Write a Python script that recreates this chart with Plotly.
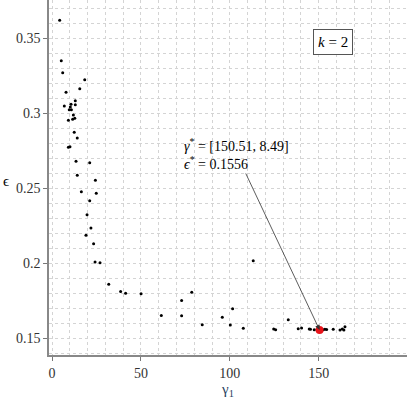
"""
Scatter of epsilon against gamma_1 with the optimum highlighted.
"""

import plotly.graph_objects as go

gamma1 = [4.3, 5.2, 6.0, 18.4, 15.6, 7.9, 13.1, 6.9, 13.1, 10.7, 10.3, 9.7,
          10.9, 12.0, 12.8, 11.6, 9.2, 12.5, 14.2, 10.1, 9.2, 13.5, 21.2, 14.2,
          24.4, 16.5, 24.9, 21.2, 19.7, 21.9, 19.1, 23.4, 24.2, 27.0, 31.9,
          38.6, 41.4, 50.1, 61.5, 72.9, 72.9, 78.6, 84.5, 113.2, 101.6, 95.8,
          100.3, 107.6, 124.7, 125.8, 132.9, 138.5, 140.4, 144.7, 145.4, 147.5,
          149.0, 151.5, 152.5, 153.5, 154.5, 158.2, 162.0, 163.3, 164.2, 164.8]
eps = [0.362, 0.335, 0.327, 0.3224, 0.3164, 0.314, 0.3084, 0.3049, 0.3057,
       0.306, 0.3042, 0.3024, 0.3024, 0.2989, 0.2967, 0.296, 0.2953, 0.2873,
       0.2835, 0.2777, 0.2773, 0.268, 0.2671, 0.2587, 0.2553, 0.2477, 0.2467,
       0.2417, 0.2324, 0.2235, 0.2187, 0.2131, 0.2009, 0.2004, 0.186, 0.1813,
       0.18, 0.1797, 0.1653, 0.1753, 0.1651, 0.1807, 0.1591, 0.2017, 0.1697,
       0.164, 0.1589, 0.1567, 0.1562, 0.1557, 0.1624, 0.1564, 0.1569, 0.1562,
       0.1560, 0.1558, 0.1557, 0.1557, 0.1558, 0.1560, 0.1559, 0.1560, 0.1556,
       0.1562, 0.1555, 0.1577]

best_gamma = [150.51, 8.49]
best_eps = 0.1556
k = 2

SERIF = "Liberation Serif"

fig = go.Figure()
fig.add_trace(go.Scatter(
    x=gamma1, y=eps, mode="markers",
    marker=dict(color="black", size=3), showlegend=False,
))
fig.add_trace(go.Scatter(
    x=[best_gamma[0]], y=[best_eps], mode="markers",
    marker=dict(color="#e8141a", size=8), showlegend=False,
))

fig.add_annotation(
    x=best_gamma[0], y=best_eps,
    text="<i>γ</i><sup>*</sup> = [%.2f, %.2f]<br><i>ϵ</i><sup>*</sup> = %.4f"
    % (best_gamma[0], best_gamma[1], best_eps),
    align="left", font=dict(family=SERIF, size=14, color="black"),
    showarrow=True, arrowhead=2, arrowsize=1.2, arrowwidth=0.8,
    arrowcolor="#333", ax=-83, ay=-176,
)
fig.add_annotation(
    xref="paper", yref="paper", x=0.849, y=0.918,
    text="<i>k</i> = %d" % k, showarrow=False,
    font=dict(family=SERIF, size=15, color="black"),
    bordercolor="#555", borderwidth=1, borderpad=4, bgcolor="white",
)
fig.add_annotation(
    xref="paper", yref="paper", x=-0.12, y=0.49,
    text="ϵ", showarrow=False, xanchor="center",
    font=dict(family=SERIF, size=15, color="black"),
)

grid = dict(showgrid=True, gridcolor="#d4d4d4", griddash="dot", gridwidth=1)
fig.update_xaxes(
    range=[-1.7, 199.7], dtick=50, tick0=0, ticks="outside", ticklen=4,
    tickcolor="#777", showline=True, linecolor="#888", linewidth=1.5,
    zeroline=False, minor=dict(dtick=10, **grid), **grid,
    title=dict(text="γ<sub>1</sub>", font=dict(family=SERIF, size=15),
               standoff=2),
    tickfont=dict(family=SERIF, size=14, color="#333"),
)
fig.update_yaxes(
    range=[0.1389, 0.3755], dtick=0.05, tick0=0, ticks="outside", ticklen=4,
    tickcolor="#777", showline=True, linecolor="#888", linewidth=1.5,
    zeroline=False, minor=dict(dtick=0.01, **grid), **grid,
    tickfont=dict(family=SERIF, size=14, color="#333"),
)
fig.update_layout(
    width=407, height=399,
    margin=dict(l=49, r=0, t=0, b=44),
    plot_bgcolor="white", paper_bgcolor="white",
    font=dict(family=SERIF),
)

# drop the page's default body margin so the figure sits at the corner
fig.write_html("out.html", config={"displayModeBar": False},
               post_script="document.body.style.margin = '0';")
